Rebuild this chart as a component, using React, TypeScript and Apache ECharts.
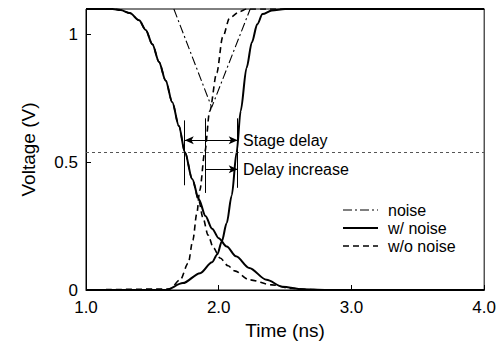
import React, { useEffect, useRef } from "react";
import * as echarts from "echarts";

// Time (ns), Voltage (V)
const fallWithNoise: [number, number][] = [
  [1.0, 1.1], [1.2, 1.1], [1.26, 1.096], [1.33, 1.084], [1.4, 1.056], [1.45, 1.018],
  [1.5, 0.962], [1.55, 0.893], [1.6, 0.82], [1.65, 0.735], [1.7, 0.642], [1.745, 0.54],
  [1.8, 0.435], [1.85, 0.355], [1.9, 0.29], [1.95, 0.24], [2.0, 0.203], [2.06, 0.17],
  [2.13, 0.132], [2.23, 0.086], [2.36, 0.04], [2.48, 0.013], [2.63, 0.003], [2.8, 0], [4.0, 0],
];
const riseWithNoise: [number, number][] = [
  [1.0, 0], [1.6, 0], [1.73, 0.027], [1.86, 0.066], [1.95, 0.109], [1.99, 0.14],
  [2.023, 0.19], [2.06, 0.262], [2.098, 0.37], [2.135, 0.54], [2.165, 0.7], [2.21, 0.87],
  [2.25, 0.97], [2.29, 1.04], [2.33, 1.08], [2.4, 1.094], [2.5, 1.1], [4.0, 1.1],
];
const fallWithoutNoise: [number, number][] = [
  [1.0, 1.1], [1.2, 1.1], [1.26, 1.096], [1.33, 1.084], [1.4, 1.056], [1.45, 1.018],
  [1.5, 0.962], [1.55, 0.893], [1.6, 0.82], [1.65, 0.735], [1.7, 0.642], [1.745, 0.54],
  [1.8, 0.435], [1.85, 0.35], [1.88, 0.285], [1.92, 0.215], [1.96, 0.165], [2.01, 0.125],
  [2.07, 0.095], [2.12, 0.075], [2.23, 0.04], [2.4, 0.02], [2.55, 0.006], [2.75, 0], [4.0, 0],
];
const riseWithoutNoise: [number, number][] = [
  [1.0, 0], [1.63, 0.004], [1.71, 0.04], [1.77, 0.105], [1.805, 0.195], [1.835, 0.3],
  [1.857, 0.39], [1.895, 0.54], [1.932, 0.7], [1.985, 0.85], [2.03, 0.99], [2.083, 1.066],
  [2.158, 1.09], [2.21, 1.1], [4.0, 1.1],
];
const noiseLine: [number, number][] = [
  [1.662, 1.1], [1.947, 0.715], [2.237, 1.1],
];
const thresholdV = 0.54;
const delayStart = 1.744; // w/ noise input crossing
const delayNoNoise = 1.902; // w/o noise reference
const delayEnd = 2.143; // w/ noise output crossing
const stageArrowV = 0.586;
const increaseArrowV = 0.473;
const xTicks = [1, 2, 3, 4];
const yTicks = [0, 0.5, 1];
const legendNames = ["noise", "w/ noise", "w/o noise"];

const FONT = "'Liberation Sans', Arial, sans-serif";

export default function App() {
  const ref = useRef<HTMLDivElement>(null);
  useEffect(() => {
    if (!ref.current) return;
    const chart = echarts.init(ref.current, undefined, { renderer: "svg" });
    const solid = { color: "#000", width: 2, type: "solid" as const };
    const dashed = { color: "#000", width: 1.6, type: [6, 4] as number[] };
    const dashDot = { color: "#000", width: 1.1, type: [9, 3, 2, 3] as number[] };
    const legendStyles = [dashDot, solid, dashed];
    const base = {
      type: "line" as const,
      showSymbol: false,
      symbol: "none",
      smooth: 0.3,
      smoothMonotone: "x",
      silent: true,
      z: 3,
    };
    const vLine = (t: number, v0: number, v1: number) => [
      { coord: [t, v0], symbol: "none" },
      { coord: [t, v1], symbol: "none" },
    ];
    const legendGraphic = legendNames.map((name, i) => ({
      type: "group",
      x: 343,
      y: 210 + i * 18,
      children: [
        {
          type: "line",
          shape: { x1: 0, y1: 0, x2: 35, y2: 0 },
          style: {
            stroke: "#000",
            lineWidth: legendStyles[i].width,
            lineDash: typeof legendStyles[i].type === "string" ? null : legendStyles[i].type,
          },
        },
        {
          type: "text",
          x: 45,
          y: 0,
          style: { text: name, fontFamily: FONT, fontSize: 16, fill: "#000", verticalAlign: "middle" },
        },
      ],
    }));
    chart.setOption({
      animation: false,
      textStyle: { fontFamily: FONT },
      grid: {
        left: 86, right: 14, top: 9, bottom: 62,
        show: true, borderColor: "#000", borderWidth: 1, backgroundColor: "transparent",
      },
      graphic: legendGraphic,
      xAxis: {
        type: "value",
        min: 1,
        max: 4,
        interval: 1,
        name: "Time (ns)",
        nameLocation: "middle",
        nameGap: 31,
        nameTextStyle: { fontFamily: FONT, fontSize: 19, color: "#000", fontWeight: "normal" },
        axisLine: { show: true, lineStyle: { color: "#000", width: 1 } },
        axisTick: { show: true, inside: true, length: 5, lineStyle: { color: "#000" } },
        axisLabel: {
          fontFamily: FONT, fontSize: 17, color: "#000", margin: 9,
          formatter: (v: number) => (xTicks.includes(v) ? v.toFixed(1) : ""),
        },
        splitLine: { show: false },
      },
      yAxis: {
        type: "value",
        min: 0,
        max: 1.1,
        interval: 0.5,
        name: "Voltage (V)",
        nameLocation: "middle",
        nameGap: 48,
        nameTextStyle: { fontFamily: FONT, fontSize: 19, color: "#000", fontWeight: "normal" },
        axisLine: { show: true, lineStyle: { color: "#000", width: 1 } },
        axisTick: { show: true, inside: true, length: 5, lineStyle: { color: "#000" } },
        axisLabel: {
          fontFamily: FONT, fontSize: 17, color: "#000", margin: 8,
          formatter: (v: number) => (yTicks.includes(v) ? String(v) : ""),
        },
        splitLine: { show: false },
      },
      series: [
        { ...base, name: "noise", data: noiseLine, smooth: false, lineStyle: dashDot },
        { ...base, name: "w/o noise", data: fallWithoutNoise, lineStyle: dashed },
        { ...base, name: "w/o noise", data: riseWithoutNoise, lineStyle: dashed },
        { ...base, name: "w/ noise", data: fallWithNoise, lineStyle: solid, z: 4 },
        { ...base, name: "w/ noise", data: riseWithNoise, lineStyle: solid, z: 4 },
        {
          type: "line",
          name: "annotations",
          data: [],
          silent: true,
          markLine: {
            silent: true,
            animation: false,
            label: { show: false },
            emphasis: { disabled: true },
            symbol: ["none", "none"],
            data: [
              [
                { coord: [1, thresholdV], symbol: "none", lineStyle: { color: "#555", width: 1, type: [3, 3] } },
                { coord: [4, thresholdV], symbol: "none" },
              ],
              vLine(delayStart, 0.41, 0.664),
              vLine(delayNoNoise, 0.38, 0.672),
              vLine(delayEnd, 0.4, 0.672),
              [
                { coord: [delayStart, stageArrowV], symbol: "arrow", symbolSize: [6, 9] },
                { coord: [delayEnd, stageArrowV], symbol: "arrow", symbolSize: [6, 9] },
              ],
              [
                { coord: [delayNoNoise, increaseArrowV], symbol: "none" },
                { coord: [delayEnd, increaseArrowV], symbol: "arrow", symbolSize: [6, 9] },
              ],
            ],
            lineStyle: { color: "#000", width: 1, type: "solid" },
          },
          markPoint: {
            silent: true,
            symbol: "circle",
            symbolSize: 0,
            data: [
              {
                coord: [delayEnd + 0.04, stageArrowV],
                label: { show: true, position: "right", distance: 0, formatter: "Stage delay", fontFamily: FONT, fontSize: 16, color: "#000" },
              },
              {
                coord: [delayEnd + 0.04, increaseArrowV],
                label: { show: true, position: "right", distance: 0, formatter: "Delay increase", fontFamily: FONT, fontSize: 16, color: "#000" },
              },
            ],
          },
        },
      ],
    });
    return () => chart.dispose();
  }, []);
  return (
    <div
      ref={ref}
      style={{ position: "fixed", left: 0, top: 0, width: 499, height: 352, background: "#fff" }}
    />
  );
}
